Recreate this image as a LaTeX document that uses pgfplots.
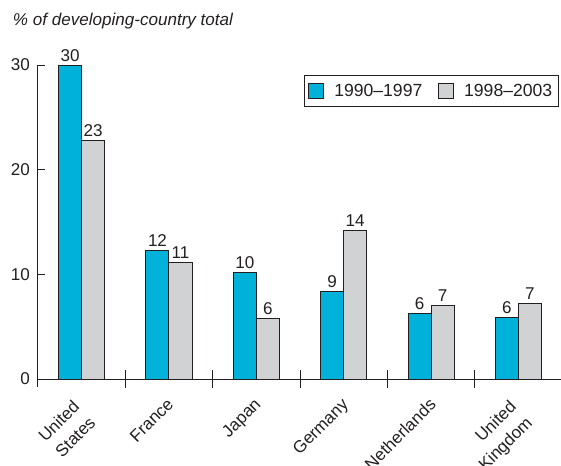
\documentclass[border=0pt]{standalone}
\usepackage{pgfplots}
\pgfplotsset{compat=1.18}
\usepackage{pgfplotstable}
\usepackage{fontspec}
\setmainfont{Liberation Sans}
\definecolor{cy}{RGB}{0,178,217}
\definecolor{gr}{RGB}{209,210,212}
\definecolor{ink}{RGB}{35,31,32}

\pgfplotstableread{
x a la b lb
0 30.0 30 22.8 23
1 12.3 12 11.15 11
2 10.2 10 5.8 6
3 8.35 9 14.2 14
4 6.25 6 7.0 7
5 5.85 6 7.2 7
}\data

\begin{document}
\begin{tikzpicture}[font=\fontsize{12.8}{15}\selectfont, text=ink]
\path[use as bounding box] (0,0) rectangle (420.75pt,348.75pt);
\node[anchor=base west, inner sep=0pt] at (9.5pt,329.25pt) {\textit{\% of developing-country total}};
\begin{axis}[
  at={(28.5pt,64.5pt)}, anchor=south west,
  scale only axis, width=393pt, height=235.5pt,
  xmin=-0.5, xmax=5.5, ymin=0, ymax=30,
  clip=false,
  axis x line=bottom, axis y line=left,
  axis line style={draw=ink, line width=0.75pt, -},
  y axis line style={shorten <=-6pt},
  ytick={0,10,20,30},
  xtick={1,2,3,4},
  xticklabels={France,Japan,Germany,Netherlands},
  extra x ticks={0,5},
  extra x tick labels={{United\\States},{United\\Kingdom}},
  extra x tick style={xticklabel style={xshift=-4.8pt, yshift=2.65pt}},
  major tick length=0pt,
  tick style={draw=none},
  /pgf/number format/assume math mode=true,
  yticklabel style={anchor=east, xshift=-2.5pt, text=ink},
  xticklabel style={rotate=45, anchor=north east, align=right, text=ink, inner sep=1pt,
    font=\fontsize{12.8}{17}\selectfont, yshift=-6.9pt, xshift=-10pt},
  ybar=0pt, bar width=17.25pt,
  nodes near coords,
  point meta=explicit symbolic,
  every node near coord/.append style={text=ink, font=\fontsize{12.8}{15}\selectfont, inner sep=2.5pt},
  legend columns=2,
  legend style={at={(0.5076,0.968)}, anchor=north west, draw=ink, line width=0.75pt,
    font=\fontsize{13.2}{15}\selectfont, inner xsep=3pt, inner ysep=4.3pt,
    /tikz/every odd column/.append style={column sep=5.5pt},
    /tikz/every even column/.append style={column sep=10pt}},
  legend image code/.code={\draw[#1, draw=ink, line width=0.6pt] (0pt,-5.6pt) rectangle (11.25pt,5.6pt);},
]
\addplot[fill=cy, draw=ink, line width=0.75pt] table[x=x, y=a, meta=la] {\data};
\addlegendentry{1990–1997}
\addplot[fill=gr, draw=ink, line width=0.75pt] table[x=x, y=b, meta=lb] {\data};
\addlegendentry{1998–2003}
\foreach \v in {10,20,30} {
  \edef\tmp{\noexpand\draw[ink, line width=0.75pt] (axis cs:-0.5,\v) -- ++(5.25pt,0pt);}\tmp
}
\foreach \u in {0.5,1.5,2.5,3.5,4.5} {
  \edef\tmp{\noexpand\draw[ink, line width=0.75pt] (axis cs:\u,0) ++(0pt,-6.75pt) -- ++(0pt,13.5pt);}\tmp
}
\end{axis}
\end{tikzpicture}
\end{document}
